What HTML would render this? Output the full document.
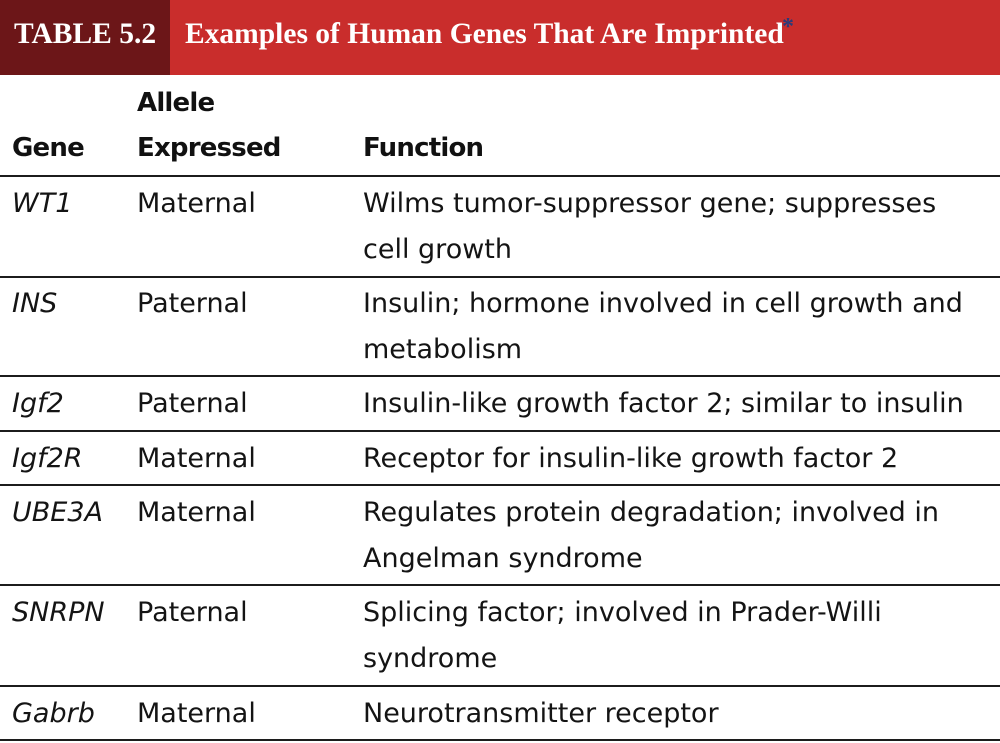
<!DOCTYPE html>
<html>
<head>
<meta charset="utf-8">
<style>
  html,body{margin:0;padding:0;background:#fff;}
  body{width:1000px;height:743px;position:relative;overflow:hidden;}
  .bar{position:absolute;left:0;top:0;width:1000px;height:75px;background:#c92d2c;}
  .dark{position:absolute;left:0;top:0;width:170px;height:75px;background:#6c1618;}
  .ttl{position:absolute;top:18px;line-height:32px;font-family:"Liberation Serif",serif;font-weight:bold;font-size:29.5px;color:#fff;white-space:nowrap;}
  .ast{position:absolute;left:782px;top:17px;line-height:20px;font-family:"Liberation Serif",serif;font-weight:bold;font-size:24px;color:#2b3a78;}
  .ln{position:absolute;left:0;width:1000px;height:2px;background:#1c1c1c;}
  .t{position:absolute;font-family:"DejaVu Sans",sans-serif;font-size:27px;line-height:46px;color:#141414;white-space:nowrap;}
  .h{font-weight:bold;font-size:26px;letter-spacing:-0.8px;color:#111;}
  .i{font-style:italic;}
</style>
</head>
<body>
<div class="bar"></div>
<div class="dark"></div>
<div class="ttl" style="left:14px;">TABLE 5.2</div>
<div class="ttl" style="left:185px;">Examples of Human Genes That Are Imprinted</div>
<div class="ast">*</div>

<div class="t h" style="left:137px;top:80px;">Allele</div>
<div class="t h" style="left:12px;top:125px;">Gene</div>
<div class="t h" style="left:137px;top:125px;">Expressed</div>
<div class="t h" style="left:363px;top:125px;">Function</div>

<div class="ln" style="top:175px;"></div>
<div class="t i" style="left:12px;top:181px;">WT1</div>
<div class="t" style="left:137px;top:181px;">Maternal</div>
<div class="t" style="left:363px;top:181px;">Wilms tumor-suppressor gene; suppresses<br>cell growth</div>

<div class="ln" style="top:276px;"></div>
<div class="t i" style="left:12px;top:281px;">INS</div>
<div class="t" style="left:137px;top:281px;">Paternal</div>
<div class="t" style="left:363px;top:281px;">Insulin; hormone involved in cell growth and<br>metabolism</div>

<div class="ln" style="top:375px;"></div>
<div class="t i" style="left:12px;top:381px;">Igf2</div>
<div class="t" style="left:137px;top:381px;">Paternal</div>
<div class="t" style="left:363px;top:381px;">Insulin-like growth factor 2; similar to insulin</div>

<div class="ln" style="top:430px;"></div>
<div class="t i" style="left:12px;top:436px;">Igf2R</div>
<div class="t" style="left:137px;top:436px;">Maternal</div>
<div class="t" style="left:363px;top:436px;">Receptor for insulin-like growth factor 2</div>

<div class="ln" style="top:484px;"></div>
<div class="t i" style="left:12px;top:490px;">UBE3A</div>
<div class="t" style="left:137px;top:490px;">Maternal</div>
<div class="t" style="left:363px;top:490px;">Regulates protein degradation; involved in<br>Angelman syndrome</div>

<div class="ln" style="top:584px;"></div>
<div class="t i" style="left:12px;top:590px;">SNRPN</div>
<div class="t" style="left:137px;top:590px;">Paternal</div>
<div class="t" style="left:363px;top:590px;">Splicing factor; involved in Prader-Willi<br>syndrome</div>

<div class="ln" style="top:685px;"></div>
<div class="t i" style="left:12px;top:691px;">Gabrb</div>
<div class="t" style="left:137px;top:691px;">Maternal</div>
<div class="t" style="left:363px;top:691px;">Neurotransmitter receptor</div>

<div class="ln" style="top:739px;"></div>
</body>
</html>
